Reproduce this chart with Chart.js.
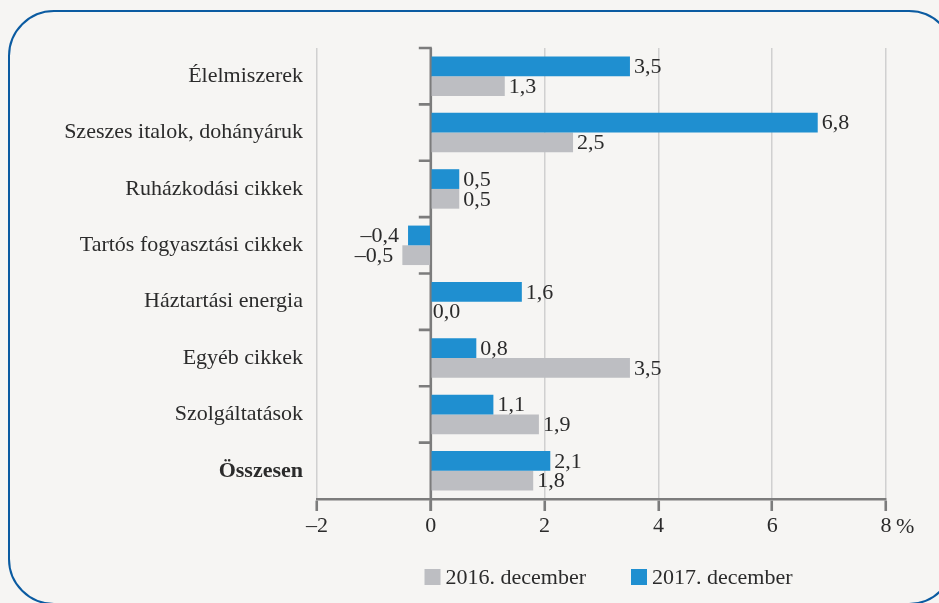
<!DOCTYPE html>
<html>
<head>
<meta charset="utf-8">
<script src="https://cdn.jsdelivr.net/npm/chart.js@4.4.0/dist/chart.umd.min.js"></script>
<style>
  html, body { margin:0; padding:0; background:#f6f5f3; overflow:hidden; }
  #wrap { position:relative; width:939px; height:603px; background:#f6f5f3; overflow:hidden; }
  #frame { position:absolute; left:8px; top:10px; width:947px; height:595px; box-sizing:border-box;
           border:2.2px solid #0b5ba1; border-radius:46px; pointer-events:none; }
  canvas { position:absolute; left:0; top:0; }
</style>
</head>
<body>
<div id="wrap">
  <canvas id="c" width="939" height="603"></canvas>
  <div id="frame"></div>
</div>
<script>
const categories = ["Élelmiszerek", "Szeszes italok, dohányáruk", "Ruházkodási cikkek", "Tartós fogyasztási cikkek", "Háztartási energia", "Egyéb cikkek", "Szolgáltatások", "Összesen"];
const values2017 = [3.5, 6.8, 0.5, -0.4, 1.6, 0.8, 1.1, 2.1];
const values2016 = [1.3, 2.5, 0.5, -0.5, 0.0, 3.5, 1.9, 1.8];
const seriesNames = ["2017. december", "2016. december"];
const xTicks = [-2, 0, 2, 4, 6, 8];
const xUnit = "%";

const FONT = "'Liberation Serif', 'DejaVu Serif', serif";
const FS = 22;
const TEXT = '#2b2b2b';
const BLUE = '#1f8fd0';
const GRAY = '#bdbec2';
const DARK = '#7c7c7c';
const GRID = '#d0d0d0';

function fmt(v) {
  const s = Math.abs(v).toFixed(1).replace('.', ',');
  return v < 0 ? '\u2013' + s : s;
}

const decorPlugin = {
  id: 'decor',
  beforeDatasetsDraw(chart) {
    const ctx = chart.ctx, a = chart.chartArea;
    const xs = chart.scales.x;
    const x0 = xs.getPixelForValue(0);
    const n = categories.length;
    const band = (a.bottom - a.top) / n;
    ctx.save();
    ctx.strokeStyle = DARK;
    ctx.lineWidth = 2.6;
    ctx.beginPath();
    ctx.moveTo(x0, a.top);
    ctx.lineTo(x0, a.bottom + 12);
    for (let k = 0; k < n; k++) {
      const y = a.top + k * band;
      ctx.moveTo(x0 - 12, y);
      ctx.lineTo(x0 + 1, y);
    }
    ctx.stroke();
    ctx.restore();
  },
  afterDatasetsDraw(chart) {
    const ctx = chart.ctx;
    ctx.save();
    ctx.font = FS + 'px ' + FONT;
    ctx.fillStyle = TEXT;
    ctx.textBaseline = 'middle';
    chart.data.datasets.forEach((ds, di) => {
      const meta = chart.getDatasetMeta(di);
      meta.data.forEach((bar, i) => {
        const v = ds.data[i];
        if (v < 0) {
          ctx.textAlign = 'right';
          ctx.fillText(fmt(v), bar.x - 9, bar.y + 1);
        } else {
          ctx.textAlign = 'left';
          ctx.fillText(fmt(v), bar.x + (v === 0 ? 2 : 4), bar.y + 1);
        }
      });
    });
    // unit after last tick
    const xs = chart.scales.x;
    ctx.textAlign = 'left';
    ctx.fillText(xUnit, xs.getPixelForValue(xTicks[xTicks.length - 1]) + 10, 527);
    // legend (2016 first, then 2017)
    const order = [1, 0];
    const box = 16, gap = 5, spacing = 45;
    let widths = order.map(di => ctx.measureText(chart.data.datasets[di].label).width);
    let total = widths.reduce((s, w) => s + box + gap + w, 0) + spacing * (order.length - 1);
    const a = chart.chartArea;
    let x = (a.left + a.right) / 2 + 7 - total / 2;
    const yc = 577;
    order.forEach((di, j) => {
      const ds = chart.data.datasets[di];
      ctx.fillStyle = ds.backgroundColor;
      ctx.fillRect(x, yc - box / 2, box, box);
      ctx.fillStyle = TEXT;
      ctx.textAlign = 'left';
      ctx.fillText(ds.label, x + box + gap, yc + 1);
      x += box + gap + widths[j] + spacing;
    });
    ctx.restore();
  }
};

new Chart(document.getElementById('c'), {
  type: 'bar',
  data: {
    labels: categories,
    datasets: [
      { label: seriesNames[0], data: values2017, backgroundColor: BLUE },
      { label: seriesNames[1], data: values2016, backgroundColor: GRAY }
    ]
  },
  options: {
    indexAxis: 'y',
    responsive: false,
    animation: false,
    devicePixelRatio: 1,
    datasets: { bar: { categoryPercentage: 0.7, barPercentage: 1.0 } },
    layout: { padding: { top: 48, right: 53, bottom: 58, left: 0 } },
    plugins: { legend: { display: false }, tooltip: { enabled: false } },
    scales: {
      x: {
        min: -2, max: 8,
        afterBuildTicks: (s) => { s.ticks = xTicks.map(v => ({ value: v })); },
        afterFit: (s) => { s.height = 46; },
        ticks: {
          font: { family: FONT, size: FS }, color: TEXT, padding: 2,
          callback: (v) => v < 0 ? '\u2013' + Math.abs(v) : String(v)
        },
        grid: { color: GRID, lineWidth: 1.5, tickColor: DARK, tickWidth: 2.6, tickLength: 12 },
        border: { color: DARK, width: 2.6 }
      },
      y: {
        afterFit: (s) => { s.width = 317; },
        grid: { display: false, drawTicks: false },
        border: { display: false },
        ticks: {
          color: TEXT, padding: 14,
          font: (c) => ({ family: FONT, size: FS, weight: c.index === categories.length - 1 ? 'bold' : 'normal' })
        }
      }
    }
  },
  plugins: [decorPlugin]
});
</script>
</body>
</html>
